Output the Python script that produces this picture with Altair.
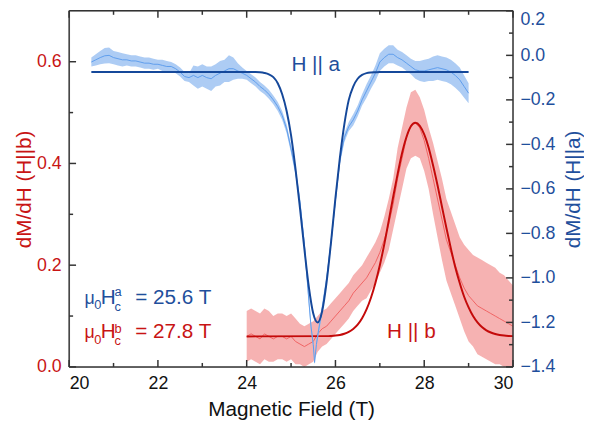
import altair as alt
import pandas as pd

# ---------------- data ----------------
# H || a  (right axis) measured trace: field, centre value, noise half-width
blue_x = [20.5, 20.6, 20.7, 20.8, 20.9, 21.0, 21.1, 21.2, 21.3, 21.4, 21.5, 21.6, 21.7, 21.8, 21.9,
          22.0, 22.1, 22.2, 22.3, 22.4, 22.5, 22.6, 22.7, 22.8, 22.9, 23.0, 23.1, 23.2, 23.3, 23.4,
          23.5, 23.6, 23.7, 23.8, 23.9, 24.0, 24.1, 24.2, 24.3, 24.4, 24.5, 24.6, 24.7, 24.8, 24.9,
          25.0, 25.1, 25.2, 25.3, 25.4, 25.45, 25.5, 25.53, 25.57, 25.6, 25.7, 25.8, 25.9, 26.0,
          26.1, 26.2, 26.3, 26.4, 26.5, 26.6, 26.7, 26.8, 26.9, 27.0, 27.1, 27.2, 27.3, 27.4, 27.5,
          27.6, 27.7, 27.8, 27.9, 28.0, 28.1, 28.2, 28.3, 28.4, 28.5, 28.6, 28.7, 28.8, 28.9, 29.0]
blue_c = [-0.03, -0.02, -0.01, -0.002, 0.0, -0.01, -0.015, -0.02, -0.02, -0.025, -0.025, -0.03, -0.035, -0.035, -0.04,
          -0.04, -0.045, -0.05, -0.05, -0.06, -0.075, -0.095, -0.1, -0.09, -0.1, -0.09, -0.1, -0.105, -0.09, -0.08,
          -0.07, -0.06, -0.06, -0.07, -0.08, -0.09, -0.105, -0.12, -0.14, -0.155, -0.175, -0.2, -0.23, -0.27, -0.33,
          -0.42, -0.52, -0.66, -0.85, -1.1, -1.22, -1.3, -1.38, -1.3, -1.26, -1.14, -1.01, -0.84, -0.65,
          -0.47, -0.37, -0.32, -0.29, -0.25, -0.2, -0.16, -0.12, -0.08, -0.03, -0.01, 0.005, 0.005, -0.01, -0.02,
          -0.035, -0.05, -0.065, -0.07, -0.07, -0.065, -0.06, -0.055, -0.06, -0.065, -0.075, -0.09, -0.11, -0.14, -0.17]
blue_h = [0.02, 0.025, 0.03, 0.035, 0.035, 0.03, 0.03, 0.03, 0.025, 0.025, 0.025, 0.025, 0.025, 0.025, 0.025,
          0.02, 0.025, 0.025, 0.02, 0.02, 0.02, 0.02, 0.02, 0.045, 0.05, 0.05, 0.05, 0.055, 0.05, 0.055,
          0.05, 0.06, 0.05, 0.035, 0.025, 0.02, 0.02, 0.02, 0.02, 0.02, 0.02, 0.02, 0.02, 0.02, 0.02,
          0.02, 0.02, 0.025, 0.025, 0.025, 0.02, 0.015, 0.01, 0.015, 0.02, 0.025, 0.025, 0.02, 0.02,
          0.02, 0.02, 0.02, 0.025, 0.025, 0.025, 0.03, 0.03, 0.035, 0.04, 0.04, 0.04, 0.04, 0.035, 0.035,
          0.035, 0.035, 0.04, 0.045, 0.05, 0.05, 0.055, 0.055, 0.055, 0.055, 0.055, 0.055, 0.055, 0.05, 0.045]

# H || a fit curve
bfit_x = [20.5, 24.2, 24.3, 24.4, 24.5, 24.6, 24.7, 24.8, 24.9, 25.0, 25.1, 25.2, 25.3, 25.4, 25.5, 25.6,
          25.7, 25.8, 25.9, 26.0, 26.1, 26.2, 26.3, 26.4, 26.5, 26.6, 26.7, 26.8, 26.9, 27.0, 29.0]
bfit_y = [-0.075, -0.075, -0.076, -0.079, -0.085, -0.098, -0.125, -0.175, -0.25, -0.36, -0.51, -0.685, -0.87, -1.04, -1.16, -1.2,
          -1.15, -1.02, -0.84, -0.64, -0.46, -0.31, -0.2, -0.14, -0.105, -0.088, -0.08, -0.077, -0.076, -0.075, -0.075]

# H || b (left axis) measured trace
red_x = [24.0, 24.1, 24.2, 24.3, 24.4, 24.5, 24.6, 24.7, 24.8, 24.9, 25.0, 25.1, 25.2, 25.3, 25.4, 25.5,
         25.6, 25.7, 25.8, 25.9, 26.0, 26.1, 26.2, 26.3, 26.4, 26.5, 26.6, 26.7, 26.8, 26.9, 27.0,
         27.1, 27.2, 27.3, 27.4, 27.5, 27.6, 27.7, 27.8, 27.9, 28.0, 28.1, 28.2, 28.3, 28.4, 28.5,
         28.6, 28.7, 28.8, 28.9, 29.0, 29.1, 29.2, 29.3, 29.4, 29.5, 29.6, 29.7, 29.8, 29.9, 30.0]
red_c = [0.06, 0.065, 0.06, 0.055, 0.065, 0.06, 0.055, 0.06, 0.06, 0.055, 0.06, 0.05, 0.045, 0.04, 0.045, 0.05,
         0.065, 0.075, 0.08, 0.09, 0.1, 0.11, 0.12, 0.13, 0.145, 0.155, 0.165, 0.175, 0.19, 0.205, 0.225,
         0.25, 0.28, 0.32, 0.37, 0.41, 0.45, 0.475, 0.48, 0.47, 0.445, 0.41, 0.37, 0.33, 0.29, 0.25,
         0.225, 0.2, 0.175, 0.155, 0.14, 0.13, 0.12, 0.115, 0.11, 0.105, 0.1, 0.095, 0.09, 0.085, 0.08]
red_h = [0.05, 0.05, 0.05, 0.05, 0.05, 0.05, 0.045, 0.045, 0.045, 0.045, 0.045, 0.045, 0.04, 0.04, 0.04, 0.04,
         0.035, 0.035, 0.035, 0.035, 0.035, 0.035, 0.035, 0.035, 0.035, 0.035, 0.035, 0.04, 0.04, 0.04, 0.04,
         0.045, 0.05, 0.05, 0.06, 0.06, 0.06, 0.065, 0.065, 0.06, 0.06, 0.06, 0.07, 0.075, 0.08, 0.08,
         0.08, 0.08, 0.08, 0.085, 0.09, 0.09, 0.095, 0.095, 0.095, 0.095, 0.095, 0.09, 0.09, 0.085, 0.08]

# H || b fit curve
rfit_x = [24.0, 25.8, 25.9, 26.0, 26.1, 26.2, 26.3, 26.4, 26.5, 26.6, 26.7, 26.8, 26.9, 27.0, 27.1, 27.2,
          27.3, 27.4, 27.5, 27.6, 27.7, 27.8, 27.9, 28.0, 28.1, 28.2, 28.3, 28.4, 28.5, 28.6, 28.7, 28.8,
          28.9, 29.0, 29.1, 29.2, 29.3, 29.4, 29.5, 29.6, 29.7, 29.8, 29.9, 30.0]
rfit_y = [0.06, 0.0605, 0.0609, 0.0616, 0.0629, 0.0652, 0.0689, 0.0746, 0.083, 0.0956, 0.113, 0.136, 0.165, 0.2, 0.241, 0.287,
          0.334, 0.379, 0.42, 0.452, 0.473, 0.48, 0.474, 0.457, 0.431, 0.396, 0.357, 0.315, 0.273, 0.233, 0.196, 0.165,
          0.138, 0.117, 0.1, 0.0876, 0.0784, 0.072, 0.0676, 0.0647, 0.0628, 0.0616, 0.0609, 0.0605]

# tick values
x_major = [20, 22, 24, 26, 28, 30]
x_minor = [21, 23, 25, 27, 29]
left_major = [0.0, 0.2, 0.4, 0.6]
left_minor = [0.1, 0.3, 0.5]
right_major = [0.2, 0.0, -0.2, -0.4, -0.6, -0.8, -1.0, -1.2, -1.4]
right_minor = [0.1, -0.1, -0.3, -0.5, -0.7, -0.9, -1.1, -1.3]

# annotation texts
blue_ann_text = ["μ", "0", "H", "c", "a", "= 25.6 T"]
red_ann_text = ["μ", "0", "H", "c", "b", "= 27.8 T"]
label_a = "H || a"
label_b = "H || b"

# ---------------- styling ----------------
FONT = "Liberation Sans"
RED = "#c81414"
RED_FIT = "#c40a0a"
RED_LIGHT = "#f06464"
RED_BAND = "#f5a5a5"
BLUE = "#1f4f9c"
BLUE_FIT = "#15489a"
BLUE_LIGHT = "#5e9ded"
BLUE_BAND = "#9fc3f2"
AX = "#333333"
W, H = 450, 361

blue_df = pd.DataFrame({"x": blue_x, "c": blue_c,
                        "lo": [c - h for c, h in zip(blue_c, blue_h)],
                        "hi": [c + h for c, h in zip(blue_c, blue_h)]})
red_df = pd.DataFrame({"x": red_x, "c": red_c,
                       "lo": [c - h for c, h in zip(red_c, red_h)],
                       "hi": [c + h for c, h in zip(red_c, red_h)]})
bfit_df = pd.DataFrame({"x": bfit_x, "y": bfit_y})
rfit_df = pd.DataFrame({"x": rfit_x, "y": rfit_y})

xscale = alt.Scale(domain=[20, 30], nice=False, zero=False)
yL = alt.Scale(domain=[0, 0.7], nice=False, zero=False)
yR = alt.Scale(domain=[-1.4, 0.2], nice=False, zero=False)

xaxis = alt.Axis(values=x_major, format="d", ticks=False, domain=False, grid=False,
                 labelFont=FONT, labelFontSize=18, labelColor="#111111", labelPadding=8,
                 title="Magnetic Field (T)", titleFont=FONT, titleFontSize=21,
                 titleFontWeight="normal", titleColor="#111111",
                 titleY=49, titleBaseline="alphabetic")
xenc = alt.X("x:Q", scale=xscale, axis=xaxis)

laxis = alt.Axis(orient="left", values=left_major, format=".1f", ticks=False, domain=False,
                 grid=False, labelFont=FONT, labelFontSize=18, labelColor=RED, labelPadding=8,
                 title="dM/dH (H||b)", titleFont=FONT, titleFontSize=21, titleFontWeight="normal",
                 titleColor=RED, titleAngle=270, titleX=-45, titleY=H / 2,
                 titleAlign="center", titleBaseline="middle")
raxis = alt.Axis(orient="right", values=right_major, format=".1f", ticks=False, domain=False,
                 grid=False, labelFont=FONT, labelFontSize=18, labelColor=BLUE, labelPadding=7,
                 labelBaseline={"condition": {"test": "datum.value > 0.15", "value": "top"},
                                "value": "middle"},
                 title="dM/dH (H||a)", titleFont=FONT, titleFontSize=21, titleFontWeight="normal",
                 titleColor=BLUE, titleAngle=270, titleX=61, titleY=H / 2,
                 titleAlign="center", titleBaseline="middle")


def yl(field):
    return alt.Y(field, type="quantitative", scale=yL, axis=laxis)


def yr(field):
    return alt.Y(field, type="quantitative", scale=yR, axis=raxis)


one = pd.DataFrame({"a": [0]})
tick_df = lambda vals: pd.DataFrame({"v": vals})

# ---- red (left axis) group ----
red_band = alt.Chart(red_df).mark_area(color=RED_BAND, opacity=0.85, clip=True).encode(
    x=xenc, y=yl("lo"), y2="hi")
red_line = alt.Chart(red_df).mark_line(color=RED_LIGHT, strokeWidth=1, clip=True).encode(
    x=xenc, y=yl("c"))
red_fit = alt.Chart(rfit_df).mark_line(color=RED_FIT, strokeWidth=2, interpolate="monotone",
                                       clip=True).encode(x=xenc, y=yl("y"))

xt_major_b = alt.Chart(tick_df(x_major)).mark_rule(color=AX, strokeWidth=1.5).encode(
    x=alt.X("v:Q", scale=xscale, axis=xaxis), y=alt.value(H), y2=alt.value(H - 7))
xt_minor_b = alt.Chart(tick_df(x_minor)).mark_rule(color=AX, strokeWidth=1.5).encode(
    x=alt.X("v:Q", scale=xscale, axis=xaxis), y=alt.value(H), y2=alt.value(H - 4))
xt_major_t = alt.Chart(tick_df(x_major)).mark_rule(color=AX, strokeWidth=1.5).encode(
    x=alt.X("v:Q", scale=xscale, axis=xaxis), y=alt.value(0), y2=alt.value(7))
xt_minor_t = alt.Chart(tick_df(x_minor)).mark_rule(color=AX, strokeWidth=1.5).encode(
    x=alt.X("v:Q", scale=xscale, axis=xaxis), y=alt.value(0), y2=alt.value(4))
lt_major = alt.Chart(tick_df(left_major)).mark_rule(color=AX, strokeWidth=1.5).encode(
    y=yl("v"), x=alt.value(0), x2=alt.value(7))
lt_minor = alt.Chart(tick_df(left_minor)).mark_rule(color=AX, strokeWidth=1.5).encode(
    y=yl("v"), x=alt.value(0), x2=alt.value(4))

# plot frame (four sides)
frame_l = alt.Chart(one).mark_rule(color=AX, strokeWidth=1.5).encode(
    x=alt.value(0), y=alt.value(0), y2=alt.value(H))
frame_r = alt.Chart(one).mark_rule(color=AX, strokeWidth=1.5).encode(
    x=alt.value(W), y=alt.value(0), y2=alt.value(H))
frame_t = alt.Chart(one).mark_rule(color=AX, strokeWidth=1.5).encode(
    y=alt.value(0), x=alt.value(0), x2=alt.value(W))
frame_b = alt.Chart(one).mark_rule(color=AX, strokeWidth=1.5).encode(
    y=alt.value(H), x=alt.value(0), x2=alt.value(W))

ann_x = [20.344, 20.567, 20.711, 21.022, 21.022, 21.489]
ann_fs = [18, 13, 21, 13, 13, 21]
red_ann_df = pd.DataFrame({"t": red_ann_text, "x": ann_x,
                           "y": [0.0567, 0.046, 0.0567, 0.0425, 0.0664, 0.0567], "fs": ann_fs})
red_ann = alt.Chart(red_ann_df).mark_text(align="left", baseline="alphabetic", font=FONT,
                                          color=RED).encode(
    x=xenc, y=yl("y"), text="t:N", size=alt.Size("fs:Q", scale=None, legend=None))
red_lab = alt.Chart(pd.DataFrame({"t": [label_b], "x": [27.711], "y": [0.0567]})).mark_text(
    align="center", baseline="alphabetic", font=FONT, fontSize=21, color=RED).encode(
    x=xenc, y=yl("y"), text="t:N")

red_group = alt.layer(red_band, red_line, red_fit, xt_major_b, xt_minor_b, xt_major_t,
                      xt_minor_t, lt_major, lt_minor, red_ann, red_lab,
                      frame_l, frame_r, frame_t, frame_b)

# ---- blue (right axis) group ----
blue_band = alt.Chart(blue_df).mark_area(color=BLUE_BAND, opacity=0.85, clip=True).encode(
    x=xenc, y=yr("lo"), y2="hi")
blue_line = alt.Chart(blue_df).mark_line(color=BLUE_LIGHT, strokeWidth=1, clip=True).encode(
    x=xenc, y=yr("c"))
blue_fit = alt.Chart(bfit_df).mark_line(color=BLUE_FIT, strokeWidth=2, interpolate="monotone",
                                        clip=True).encode(x=xenc, y=yr("y"))
rt_major = alt.Chart(tick_df(right_major)).mark_rule(color=AX, strokeWidth=1.5).encode(
    y=yr("v"), x=alt.value(W), x2=alt.value(W - 7))
rt_minor = alt.Chart(tick_df(right_minor)).mark_rule(color=AX, strokeWidth=1.5).encode(
    y=yr("v"), x=alt.value(W), x2=alt.value(W - 4))

blue_ann_df = pd.DataFrame({"t": blue_ann_text, "x": ann_x,
                            "y": [-1.116, -1.14, -1.116, -1.1467, -1.0804, -1.116], "fs": ann_fs})
blue_ann = alt.Chart(blue_ann_df).mark_text(align="left", baseline="alphabetic", font=FONT,
                                            color=BLUE).encode(
    x=xenc, y=yr("y"), text="t:N", size=alt.Size("fs:Q", scale=None, legend=None))
blue_lab = alt.Chart(pd.DataFrame({"t": [label_a], "x": [25.556], "y": [-0.07]})).mark_text(
    align="center", baseline="alphabetic", font=FONT, fontSize=21, color=BLUE).encode(
    x=xenc, y=yr("y"), text="t:N")

blue_group = alt.layer(blue_band, blue_line, blue_fit, rt_major, rt_minor, blue_ann, blue_lab)

chart = alt.layer(red_group, blue_group).resolve_scale(y="independent").properties(
    width=W, height=H,
    autosize=alt.AutoSizeParams(type="none"),
    padding={"left": 62, "top": 0, "right": 72, "bottom": 56},
    background="white",
).configure_view(strokeWidth=0).configure(font=FONT)

chart.save("out.html", embed_options={"renderer": "svg", "actions": False})
